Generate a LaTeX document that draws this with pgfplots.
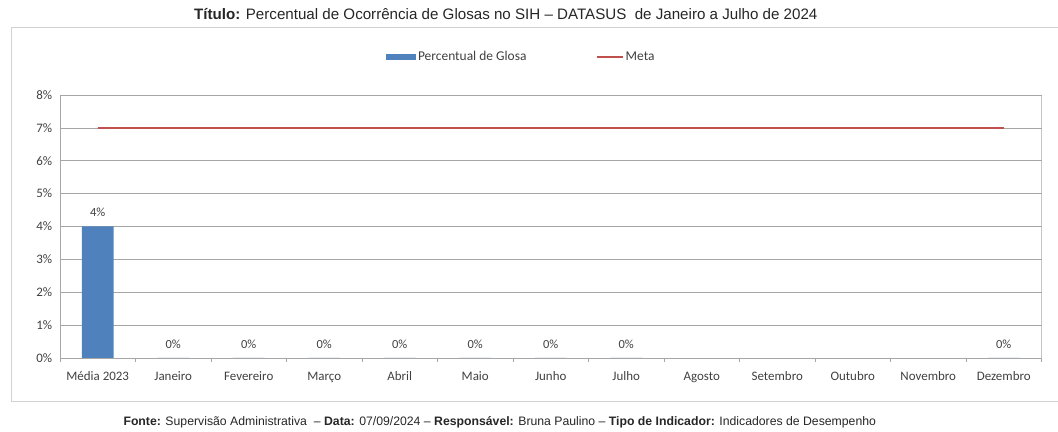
\documentclass[border=0pt]{standalone}
\usepackage{pgfplots}
\pgfplotsset{compat=1.18}
\usepackage{fontspec}
\setmainfont{Liberation Sans}
\newfontfamily\calibri{Carlito}
\definecolor{barblue}{HTML}{4F81BD}
\definecolor{metared}{HTML}{C0504D}
\definecolor{gridgray}{HTML}{A6A6A6}
\pgfplotsset{
  barleg/.style={legend image code/.code={\fill[barblue] (0bp,-3bp) rectangle (30bp,3bp);}},
  metaleg/.style={legend image code/.code={\draw[metared, line width=1.3bp] (0bp,0bp) -- (26bp,0bp);}},
}
\begin{document}
\begin{tikzpicture}[x=1bp,y=1bp]
\path (0,0) rectangle (1058,432);
\draw[gray!35, line width=1bp] (1058,404) -- (12,404) -- (12,30) -- (1058,30);
\node[font=\fontsize{15.2}{17}\selectfont, text=black!85] at (506,418) {\textbf{Título:} Percentual de Ocorrência de Glosas no SIH – DATASUS\ \ de Janeiro a Julho de 2024};
\node[font=\fontsize{12.3}{14}\selectfont, text=black!85] at (500,10) {\textbf{Fonte:} Supervisão Administrativa\ \ – \textbf{Data:} 07/09/2024 – \textbf{Responsável:} Bruna Paulino – \textbf{Tipo de Indicador:} Indicadores de Desempenho};
\begin{axis}[
  at={(60bp,74bp)}, anchor=south west,
  width=982bp, height=263bp, scale only axis,
  xmin=-0.5, xmax=12.5, ymin=0, ymax=8,
  xtick={0,...,12},
  xticklabels={Média 2023,Janeiro,Fevereiro,Março,Abril,Maio,Junho,Julho,Agosto,Setembro,Outubro,Novembro,Dezembro},
  xticklabel style={text height=1.6ex, text depth=0.4ex, yshift=-6bp},
  minor xtick={-0.5,0.5,...,12.5},
  major x tick style={draw=none},
  minor x tick style={gridgray},
  tick align=outside,
  minor tick length=4bp,
  ytick={0,...,8},
  yticklabel={\pgfmathprintnumber{\tick}\%},
  ytick style={draw=none},
  ymajorgrids, grid style={gridgray, line width=0.6bp},
  axis x line*=bottom, axis y line*=left,
  axis line style={gridgray, -},
  tick label style={font=\calibri\fontsize{13}{15}\selectfont, text=black!75},
  /pgf/number format/assume math mode=true,
  legend style={at={(0.470,1.144)}, anchor=center, draw=none, fill=none,
    font=\calibri\fontsize{13.5}{15}\selectfont, text=black!75,
    nodes={text height=1.6ex, text depth=0.4ex},
    /tikz/every even column/.append style={column sep=68bp}},
  legend columns=2,
]
\addplot[ybar, bar width=0.42, fill=barblue, draw=none,
  nodes near coords={\pgfmathprintnumber{\pgfplotspointmeta}\%},
  every node near coord/.append style={font=\calibri\fontsize{12.5}{14}\selectfont, text=black!75, yshift=6bp},
  barleg]
  coordinates {(0,4) (1,0) (2,0) (3,0) (4,0) (5,0) (6,0) (7,0) (12,0)};
\addlegendentry{Percentual de Glosa}
\addplot[color=metared, line width=2.2bp, mark=none, metaleg]
  coordinates {(0,7) (1,7) (2,7) (3,7) (4,7) (5,7) (6,7) (7,7) (8,7) (9,7) (10,7) (11,7) (12,7)};
\addlegendentry{Meta}
\draw[gridgray, line width=0.6bp] (rel axis cs:1,0) -- (rel axis cs:1,1);
\end{axis}
\end{tikzpicture}
\end{document}
